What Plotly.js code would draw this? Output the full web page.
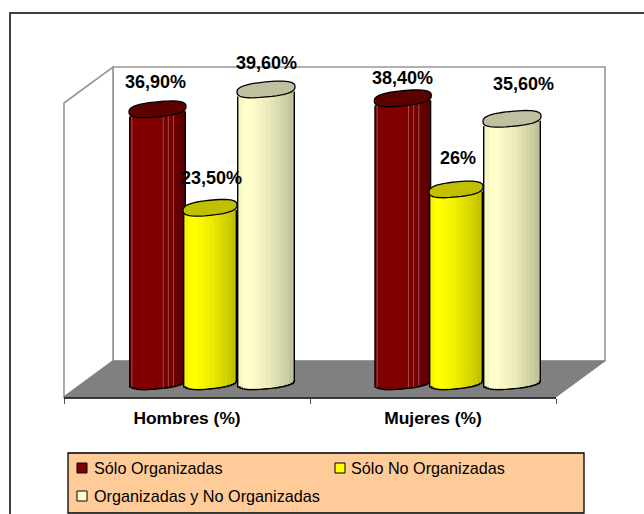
<!DOCTYPE html>
<html><head><meta charset="utf-8">
<script src="https://cdn.plot.ly/plotly-3.0.1.min.js"></script>
<style>html,body{margin:0;padding:0;background:#fff}#c{width:644px;height:514px}</style>
</head><body><div id="c"></div>
<script>
// ---- data ----
const categories = ['Hombres (%)', 'Mujeres (%)'];
const seriesNames = ['Sólo Organizadas', 'Sólo No Organizadas', 'Organizadas y No Organizadas'];
const soloOrganizadas = [36.9, 38.4];
const soloNoOrganizadas = [23.5, 26];
const organizadasYNo = [39.6, 35.6];
const labelsOrganizadas = ['36,90%', '38,40%'];
const labelsNoOrganizadas = ['23,50%', '26%'];
const labelsAmbas = ['39,60%', '35,60%'];

// ---- geometry / style ----
const W = 644, H = 514, L = 64, R = 605, T = 67, B = 398;
const PXX = 246, PXY = 7.35, ZERO = 380.5, GROUP0 = 187;
const xD = px => (px - GROUP0) / PXX;
const dxD = px => px / PXX;
const dyD = px => px / PXY;
const xP = px => (px - L) / (R - L);
const yP = px => (B - px) / (B - T);
const font = 'Liberation Sans, Arial, sans-serif';

const profile = [.97, 1, 1, .98, .96, .94, .92, .89, .86, .83, .8, .76];
const styles = [
  { rgb: [128, 0, 0], cap: '#5c0000', cx: 157.5, a: 28.5, vals: soloOrganizadas, labels: labelsOrganizadas,
    hl: '#a04a4a', hlAt: [.05, .6, .69, .78], fade: [1,1,1,1,1,1,1,.97,.93,.88,.8,.7],
    lblX: [-2, 0], lblY: [27, 20], nudge: [0, -0.7] },
  { rgb: [255, 255, 0], cap: '#c0c000', cx: 210, a: 27, vals: soloNoOrganizadas, labels: labelsNoOrganizadas,
    hl: null, hlAt: [], fade: profile, lblX: [1, 2], lblY: [30, 31], nudge: [0, 0] },
  { rgb: [255, 255, 204], cap: '#c0c0a0', cx: 266, a: 29, vals: organizadasYNo, labels: labelsAmbas,
    hl: null, hlAt: [], fade: profile, lblX: [0, 11], lblY: [26, 35], nudge: [0, 0] }
];
const TILT_B = 7.5, TILT_K = 2.7, EDGE = 1.4, SUPER = 2.6;

const lowerPx = u => -TILT_B * Math.pow(Math.max(0, 1 - Math.pow(Math.abs(u), SUPER)), 1 / SUPER) + TILT_K * u;
const spow = c => Math.sign(c) * Math.pow(Math.abs(c), 2 / SUPER);

const traces = [], shapes = [], annotations = [];

// walls and floor
const poly = (pts, fill, color, width, layer) => shapes.push({
  type: 'path', xref: 'paper', yref: 'paper', layer: layer || 'below',
  path: 'M' + pts.map(p => xP(p[0]) + ' ' + yP(p[1])).join(' L') + ' Z',
  fillcolor: fill, line: { color: color, width: width }
});
poly([[113, 67], [605, 67], [605, 361], [113, 361]], '#ffffff', '#969696', 1.6);
poly([[64, 103], [113, 67], [113, 361], [64, 397]], '#ffffff', '#969696', 1.6);
poly([[64, 397], [113, 361], [605, 361], [556, 397]], '#808080', '#808080', 1);

styles.forEach((s, si) => {
  const x = [], y = [], base = [], width = [], color = [];
  s.vals.forEach((v, g) => {
    const cx = s.cx + g * PXX + s.nudge[g];
    const N = 24;
    // black outline behind the strips
    for (let i = 0; i < N; i++) {
      const u = -1 + (i + .5) * 2 / N;
      const l = cx - s.a + i * 2 * s.a / N, r = Math.min(cx + s.a, l + 2 * s.a / N + 1.5);
      x.push(xD((l + r) / 2)); y.push(v);
      base.push(dyD(lowerPx(u) - 1.4)); width.push(dxD(r - l)); color.push('#000000');
    }
    const K = s.fade.length;
    const inner = s.a - EDGE;
    for (let i = 0; i < N; i++) {
      const u = -1 + (i + .5) * 2 / N;
      const f = s.fade[Math.min(K - 1, Math.floor((u + 1) / 2 * K))];
      const l = cx - inner + i * 2 * inner / N, r = Math.min(cx + inner, l + 2 * inner / N + 1.5);
      x.push(xD((l + r) / 2)); y.push(v);
      base.push(dyD(lowerPx(u))); width.push(dxD(r - l));
      color.push('rgb(' + s.rgb.map(c => Math.round(c * f)).join(',') + ')');
    }
    s.hlAt.forEach(p => {
      const u = -1 + 2 * p;
      x.push(xD(cx + u * s.a)); y.push(v);
      base.push(dyD(lowerPx(u))); width.push(dxD(1)); color.push(s.hl);
    });
    // top cap
    let pts = [];
    for (let i = 0; i < 48; i++) {
      const t = i / 48 * 2 * Math.PI;
      const c = spow(Math.cos(t)), sn = spow(Math.sin(t));
      pts.push(xD(cx + s.a * c) + ' ' + (v + dyD(TILT_B * sn + TILT_K * c)));
    }
    shapes.push({ type: 'path', xref: 'x', yref: 'y', layer: 'above',
      path: 'M' + pts.join(' L') + ' Z', fillcolor: s.cap, line: { color: '#000', width: 1.3 } });
    annotations.push({ xref: 'x', yref: 'y', x: xD(cx), y: v, text: s.labels[g], showarrow: false,
      xanchor: 'center', yanchor: 'middle', xshift: s.lblX[g], yshift: s.lblY[g],
      font: { family: font, size: 18, color: '#000', weight: 'bold' } });
  });
  traces.push({ type: 'bar', name: seriesNames[si], x: x, y: y, base: base, width: width,
    marker: { color: color, line: { width: 0 } }, hoverinfo: 'skip', showlegend: false });
});

// frame
poly([[10, 514], [10, 13], [644, 13]], 'rgba(0,0,0,0)', '#404040', 2, 'below');
shapes[shapes.length - 1].path = shapes[shapes.length - 1].path.replace(' Z', '');

// legend
poly([[68, 453], [584, 453], [584, 513], [68, 513]], '#ffcc99', '#000000', 1.3);
const legendPos = [[77, 468, 92], [335, 468, 349], [77, 496, 92]];
seriesNames.forEach((n, i) => {
  const p = legendPos[i], c = 'rgb(' + styles[i].rgb.join(',') + ')';
  poly([[p[0], p[1] - 5], [p[0] + 10, p[1] - 5], [p[0] + 10, p[1] + 5], [p[0], p[1] + 5]], c, '#000000', 1);
  annotations.push({ xref: 'paper', yref: 'paper', x: xP(p[2]), y: yP(p[1]), text: n, showarrow: false,
    xanchor: 'left', yanchor: 'middle', xshift: 0,
    font: { family: font, size: 16.2, color: '#000' } });
});

const layout = {
  width: W, height: H, autosize: false, showlegend: false, barmode: 'overlay',
  paper_bgcolor: '#fff', plot_bgcolor: 'rgba(0,0,0,0)',
  margin: { l: L, r: W - R, t: T, b: H - B, pad: 0 },
  xaxis: {
    range: [xD(L), xD(R)], showgrid: false, zeroline: false, fixedrange: true,
    showline: false, tickmode: 'array', tickvals: categories.map((c, i) => i), ticktext: categories,
    ticks: '', ticklabelstandoff: 8,
    tickfont: { family: font, size: 17.4, color: '#000', weight: 'bold' },
    minor: { tickmode: 'array', tickvals: [xD(64), xD(310), xD(556)], ticks: 'outside', ticklen: 5, tickcolor: '#555', tickwidth: 1, showgrid: false }
  },
  yaxis: {
    range: [(ZERO - B) / PXY, (ZERO - T) / PXY], visible: false, fixedrange: true
  },
  shapes: shapes, annotations: annotations
};
shapes.push({ type: 'line', xref: 'paper', yref: 'paper', x0: xP(64), x1: xP(556), y0: yP(398), y1: yP(398), line: { color: '#000', width: 1.3 }, layer: 'above' });
Plotly.newPlot('c', traces, layout, { displayModeBar: false, staticPlot: true });
</script></body></html>
